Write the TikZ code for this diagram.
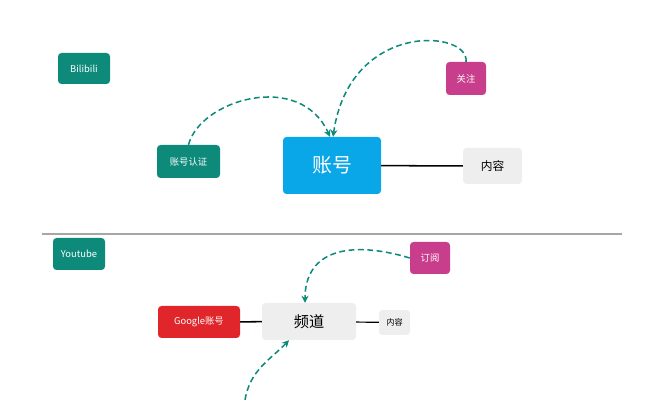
\documentclass[tikz,border=0pt]{standalone}
\usepackage{fontspec}
\setmainfont{Noto Sans CJK SC}
\usetikzlibrary{arrows.meta}
\definecolor{teal1}{HTML}{0E8A7A}
\definecolor{pink1}{HTML}{C83E8C}
\definecolor{blue1}{HTML}{0AA7E8}
\definecolor{red1}{HTML}{E0262B}
\definecolor{gray1}{HTML}{EEEEEE}
\tikzset{
 box/.style={rounded corners=3pt,inner sep=0pt,font=\fontsize{8}{9}\selectfont},
 wbox/.style={box,text=white},
 darrow/.style={draw=teal1,line width=1.3pt,dash pattern=on 5pt off 3pt,-{Stealth[length=6pt,width=6pt]}},
 link/.style={draw=black,line width=1.3pt}
}
\begin{document}
\begin{tikzpicture}[x=0.03cm,y=-0.03cm]
\useasboundingbox (0,0) rectangle (664,400);
\node[wbox,fill=teal1,minimum width=52*0.03cm,minimum height=31*0.03cm] (bili) at (84,68.5) {Bilibili};
\node[wbox,fill=pink1,minimum width=40*0.03cm,minimum height=33*0.03cm] (gz) at (466,78.5) {关注};
\node[wbox,fill=teal1,minimum width=63*0.03cm,minimum height=33*0.03cm] (rz) at (188.5,161.5) {账号认证};
\node[box,fill=blue1,text=white,font=\fontsize{17}{19}\selectfont,minimum width=98*0.03cm,minimum height=57*0.03cm] (zh) at (332,165.5) {账号};
\node[box,fill=gray1,font=\fontsize{10}{11}\selectfont,minimum width=59*0.03cm,minimum height=36*0.03cm] (nr) at (492.5,166) {内容};
\draw[link] (zh) -- (nr);
\draw[darrow] (rz.north) .. controls (200,100) and (300,70) .. ([xshift=-0.06cm]zh.north);
\draw[darrow] (gz.north) .. controls (470,30) and (350,20) .. ([xshift=0.03cm]zh.north);
\draw[gray!70,line width=1pt] (42,234) -- (622,234);
\node[wbox,fill=teal1,minimum width=52*0.03cm,minimum height=32*0.03cm] (yt) at (79,254) {Youtube};
\node[wbox,fill=pink1,minimum width=40*0.03cm,minimum height=32*0.03cm] (dy) at (430,258) {订阅};
\node[wbox,fill=red1,minimum width=82*0.03cm,minimum height=32*0.03cm] (gg) at (199,322) {Google账号};
\node[box,fill=gray1,font=\fontsize{13}{15}\selectfont,minimum width=94*0.03cm,minimum height=37*0.03cm] (pd) at (309,321.5) {频道};
\node[box,fill=gray1,font=\fontsize{7}{8}\selectfont,minimum width=31*0.03cm,minimum height=25*0.03cm] (nr2) at (394.5,322.5) {内容};
\draw[link] (gg) -- (pd);
\draw[link,line width=1pt] (pd) -- (nr2);
\draw[darrow] (dy.west) .. controls (350,240) and (305,250) .. ([xshift=-0.12cm]pd.north);
\coordinate (bt) at (245,400);
\draw[darrow] (bt) .. controls (250,370) and (270,360) .. ([xshift=-0.6cm]pd.south);
\end{tikzpicture}
\end{document}
